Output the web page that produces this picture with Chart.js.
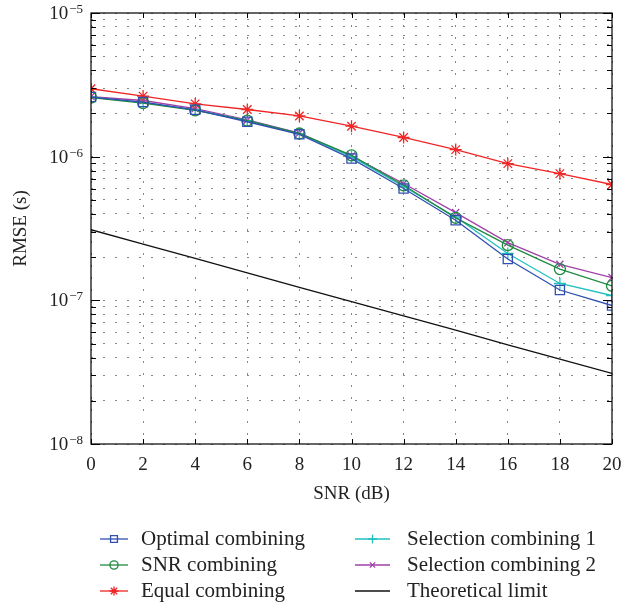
<!DOCTYPE html>
<html>
<head>
<meta charset="utf-8">
<script src="https://cdn.jsdelivr.net/npm/chart.js@4"></script>
<style>
  body { margin: 0; background: #fff; }
  #wrap { width: 624px; height: 604px; }
</style>
</head>
<body>
<div id="wrap"><canvas id="chart"></canvas></div>
<script>
// SNR in dB
const snr = [0, 2, 4, 6, 8, 10, 12, 14, 16, 18, 20];

// RMSE values (s)
const optimal = [2.6e-6, 2.4e-6, 2.12e-6, 1.75e-6, 1.43e-6, 0.97e-6, 6.0e-7, 3.61e-7, 1.94e-7, 1.18e-7, 0.92e-7];
const snrComb = [2.58e-6, 2.36e-6, 2.1e-6, 1.78e-6, 1.45e-6, 1.02e-6, 6.32e-7, 3.75e-7, 2.42e-7, 1.65e-7, 1.26e-7];
const equalComb = [2.97e-6, 2.64e-6, 2.33e-6, 2.13e-6, 1.92e-6, 1.63e-6, 1.36e-6, 1.12e-6, 8.94e-7, 7.62e-7, 6.4e-7];
const selection1 = [2.6e-6, 2.38e-6, 2.12e-6, 1.78e-6, 1.44e-6, 1.0e-6, 6.2e-7, 3.8e-7, 2.12e-7, 1.31e-7, 1.08e-7];
const selection2 = [2.62e-6, 2.46e-6, 2.16e-6, 1.8e-6, 1.46e-6, 1.01e-6, 6.5e-7, 4.08e-7, 2.52e-7, 1.78e-7, 1.44e-7];
const theoretical = [3.1e-7, 2.46e-7, 1.96e-7, 1.55e-7, 1.23e-7, 9.8e-8, 7.8e-8, 6.2e-8, 4.9e-8, 3.9e-8, 3.1e-8];

const labels = ['Optimal combining', 'SNR combining', 'Equal combining',
                'Selection combining 1', 'Selection combining 2', 'Theoretical limit'];

// y axis decades: base and exponent text
const decades = [-8, -7, -6, -5];
const decadeExp = ['\u22128', '\u22127', '\u22126', '\u22125'];
const xTicks = [0, 2, 4, 6, 8, 10, 12, 14, 16, 18, 20];

const FONT = '"Liberation Serif", "Times New Roman", serif';

function ds(label, data, color, style, radius) {
    return {
        label: label,
        data: data,
        borderColor: color,
        backgroundColor: 'rgba(0,0,0,0)',
        borderWidth: 1.3,
        pointStyle: style,
        pointRadius: radius,
        pointBorderWidth: 1.3,
        pointBorderColor: color,
        pointBackgroundColor: 'rgba(0,0,0,0)',
        tension: 0,
        fill: false
    };
}

const datasets = [
    ds(labels[0], optimal, '#3050b0', 'rect', 6.5),
    ds(labels[1], snrComb, '#1f8a40', 'circle', 5.5),
    ds(labels[2], equalComb, '#f02525', 'star', 6),
    ds(labels[3], selection1, '#22c0c0', 'cross', 6),
    ds(labels[4], selection2, '#a040a8', 'crossRot', 5),
    ds(labels[5], theoretical, '#111111', false, 0)
];

// inward tick marks, the box round the plot and the tick labels
const frameTicks = {
    id: 'frameTicks',
    afterDraw(chart) {
        const ctx = chart.ctx;
        const a = chart.chartArea;
        const xs = chart.scales.x, ys = chart.scales.y;
        ctx.save();
        ctx.strokeStyle = '#000';
        ctx.lineWidth = 1;
        xs.ticks.forEach(t => {
            const px = Math.round(xs.getPixelForValue(t.value)) + 0.5;
            ctx.beginPath();
            ctx.moveTo(px, a.bottom); ctx.lineTo(px, a.bottom - 5);
            ctx.moveTo(px, a.top); ctx.lineTo(px, a.top + 5);
            ctx.stroke();
        });
        ys.ticks.forEach(t => {
            const py = Math.round(ys.getPixelForValue(t.value)) + 0.5;
            const lg = Math.log10(t.value);
            const len = Math.abs(lg - Math.round(lg)) < 1e-6 ? 9 : 5;
            ctx.beginPath();
            ctx.moveTo(a.left, py); ctx.lineTo(a.left + len, py);
            ctx.moveTo(a.right, py); ctx.lineTo(a.right - len, py);
            ctx.stroke();
        });
        ctx.lineWidth = 1.2;
        ctx.strokeRect(a.left, a.top, a.right - a.left, a.bottom - a.top);

        ctx.fillStyle = '#222';
        ctx.textBaseline = 'alphabetic';

        // x labels
        ctx.textAlign = 'center';
        ctx.font = '19px ' + FONT;
        xTicks.forEach(v => {
            ctx.fillText(String(v), xs.getPixelForValue(v), a.bottom + 26);
        });

        // decade labels with a raised exponent
        ctx.textAlign = 'right';
        decades.forEach((d, i) => {
            const py = ys.getPixelForValue(Math.pow(10, d));
            const right = a.left - 8;
            ctx.font = '13px ' + FONT;
            const ew = ctx.measureText(decadeExp[i]).width;
            ctx.fillText(decadeExp[i], right, py);
            ctx.font = '19px ' + FONT;
            ctx.fillText('10', right - ew - 1, py + 6);
        });
        ctx.restore();
    }
};

// two-column legend below the axis
const columnLegend = {
    id: 'columnLegend',
    afterDraw(chart) {
        const ctx = chart.ctx;
        const cols = [{ x1: 100, x2: 128, tx: 141 }, { x1: 355, x2: 390, tx: 407 }];
        const rows = [539, 565, 591];
        ctx.save();
        chart.data.datasets.forEach((d, i) => {
            const c = cols[Math.floor(i / 3)];
            const y = rows[i % 3];
            ctx.strokeStyle = d.borderColor;
            ctx.lineWidth = 1.3;
            ctx.beginPath();
            ctx.moveTo(c.x1, y); ctx.lineTo(c.x2, y);
            ctx.stroke();
            if (d.pointStyle) {
                ctx.fillStyle = 'rgba(0,0,0,0)';
                Chart.helpers.drawPoint(ctx, {
                    pointStyle: d.pointStyle, radius: d.pointRadius * 0.75,
                    rotation: 0, borderWidth: 1.2
                }, (c.x1 + c.x2) / 2, y);
            }
            ctx.fillStyle = '#222';
            ctx.font = '21px ' + FONT;
            ctx.textBaseline = 'middle';
            ctx.textAlign = 'left';
            ctx.fillText(d.label, c.tx, y);
        });
        ctx.restore();
    }
};

const minorTicks = [];
decades.forEach((d, i) => {
    if (i === decades.length - 1) { minorTicks.push(Math.pow(10, d)); return; }
    for (let m = 1; m <= 9; m++) minorTicks.push(m * Math.pow(10, d));
});

new Chart(document.getElementById('chart'), {
    type: 'line',
    data: { labels: snr, datasets: datasets },
    options: {
        responsive: true,
        maintainAspectRatio: false,
        animation: false,
        layout: { padding: { left: 0, right: 12, top: 13, bottom: 97 } },
        plugins: { legend: { display: false }, tooltip: { enabled: false } },
        scales: {
            x: {
                type: 'linear',
                min: 0, max: 20,
                afterBuildTicks: s => { s.ticks = xTicks.map(v => ({ value: v })); },
                afterFit: s => { s.height = 63; },
                grid: { color: '#888', lineWidth: 1, drawTicks: false },
                border: { display: false, dash: [2, 10] },
                ticks: { display: false },
                title: { display: true, text: 'SNR (dB)', color: '#222', padding: { top: 0, bottom: 2 }, font: { family: FONT, size: 19 } }
            },
            y: {
                type: 'logarithmic',
                min: 1e-8, max: 1e-5,
                afterBuildTicks: s => { s.ticks = minorTicks.map(v => ({ value: v })); },
                afterFit: s => { s.width = 91; },
                grid: { color: '#888', lineWidth: 1, drawTicks: false },
                border: { display: false, dash: [2, 10] },
                ticks: { display: false },
                title: { display: true, text: 'RMSE (s)', color: '#222', padding: { top: 10, bottom: 0 }, font: { family: FONT, size: 19 } }
            }
        }
    },
    plugins: [frameTicks, columnLegend]
});
</script>
</body>
</html>
